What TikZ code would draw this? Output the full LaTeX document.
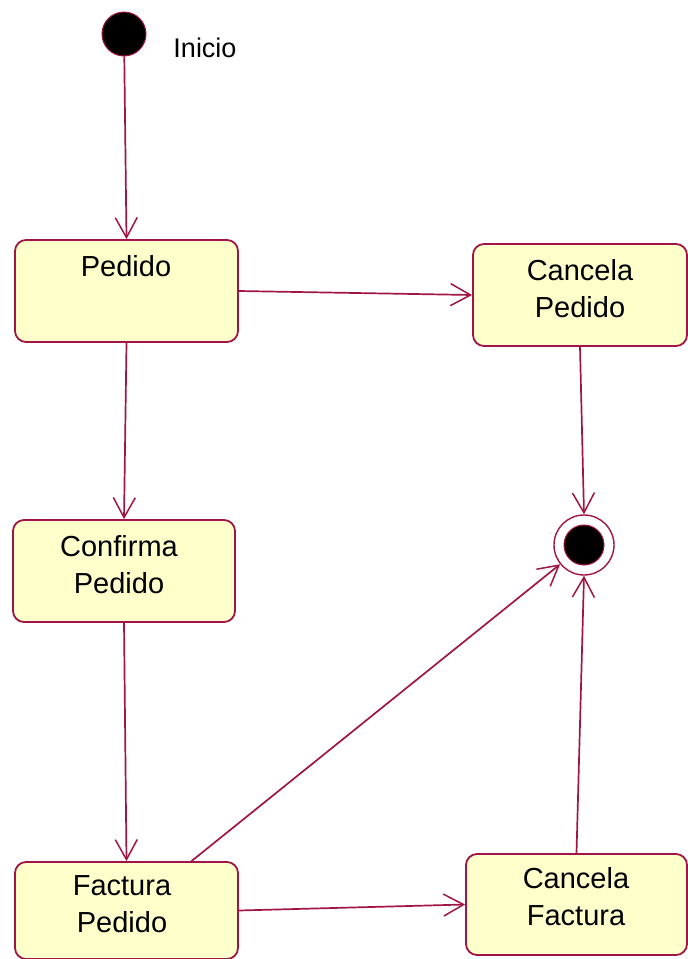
\documentclass[tikz,border=0pt]{standalone}
\usepackage{fontspec}
\setmainfont{Liberation Sans}
\usetikzlibrary{arrows.meta}
\definecolor{umlred}{RGB}{160,20,70}
\definecolor{umlfill}{RGB}{255,255,204}
\begin{document}
\begin{tikzpicture}[x=1pt,y=-1pt,
  state/.style={draw=umlred,line width=1.8pt,fill=umlfill,rounded corners=11pt,inner sep=0pt},
  lbl/.style={font=\fontsize{29}{37}\selectfont,text=black,align=center,inner sep=0pt},
  conn/.style={draw=umlred,line width=1.7pt,-{Straight Barb[length=20pt,width=22pt,line width=1.5pt]}}]
\useasboundingbox (0,0) rectangle (688,959);
% initial and final states
\node[circle,fill=black,draw=umlred,line width=1pt,minimum size=44pt,inner sep=0pt] (init) at (124,34) {};
\node[lbl,font=\fontsize{27}{30}\selectfont] (inicio) at (205,48) {Inicio};
\node[circle,draw=umlred,line width=1.4pt,fill=white,minimum size=60pt,inner sep=0pt] (final) at (584,545) {};
\node[circle,fill=black,draw=umlred,line width=1pt,minimum size=40pt,inner sep=0pt] (finaldot) at (584,545) {};
% states
\node[state,minimum width=223pt,minimum height=102pt] (pedido) at (126.5,291) {};
\node[lbl] (tpedido) at (126,266) {Pedido};
\node[state,minimum width=214pt,minimum height=102pt] (cpedido) at (580,295) {};
\node[lbl] (tcpedido) at (580,289) {Cancela\\Pedido};
\node[state,minimum width=222pt,minimum height=102pt] (confirma) at (124,571) {};
\node[lbl] (tconfirma) at (119,565) {Confirma\\Pedido};
\node[state,minimum width=223pt,minimum height=97pt] (factura) at (126.5,910.5) {};
\node[lbl] (tfactura) at (122,904) {Factura\\Pedido};
\node[state,minimum width=221pt,minimum height=101pt] (cfactura) at (576.5,904.5) {};
\node[lbl] (tcfactura) at (576,897) {Cancela\\Factura};
% transitions
\draw[conn] (init) -- (pedido.north);
\draw[conn] (pedido.east) -- (cpedido.west);
\draw[conn] (pedido.south) -- (confirma.north);
\draw[conn] (cpedido.south) -- (final.north);
\draw[conn] (confirma.south) -- (factura.north);
\draw[conn] ([xshift=65pt]factura.north) -- (final);
\draw[conn] (factura.east) -- (cfactura.west);
\draw[conn] (cfactura.north) -- (final.south);
\end{tikzpicture}
\end{document}
